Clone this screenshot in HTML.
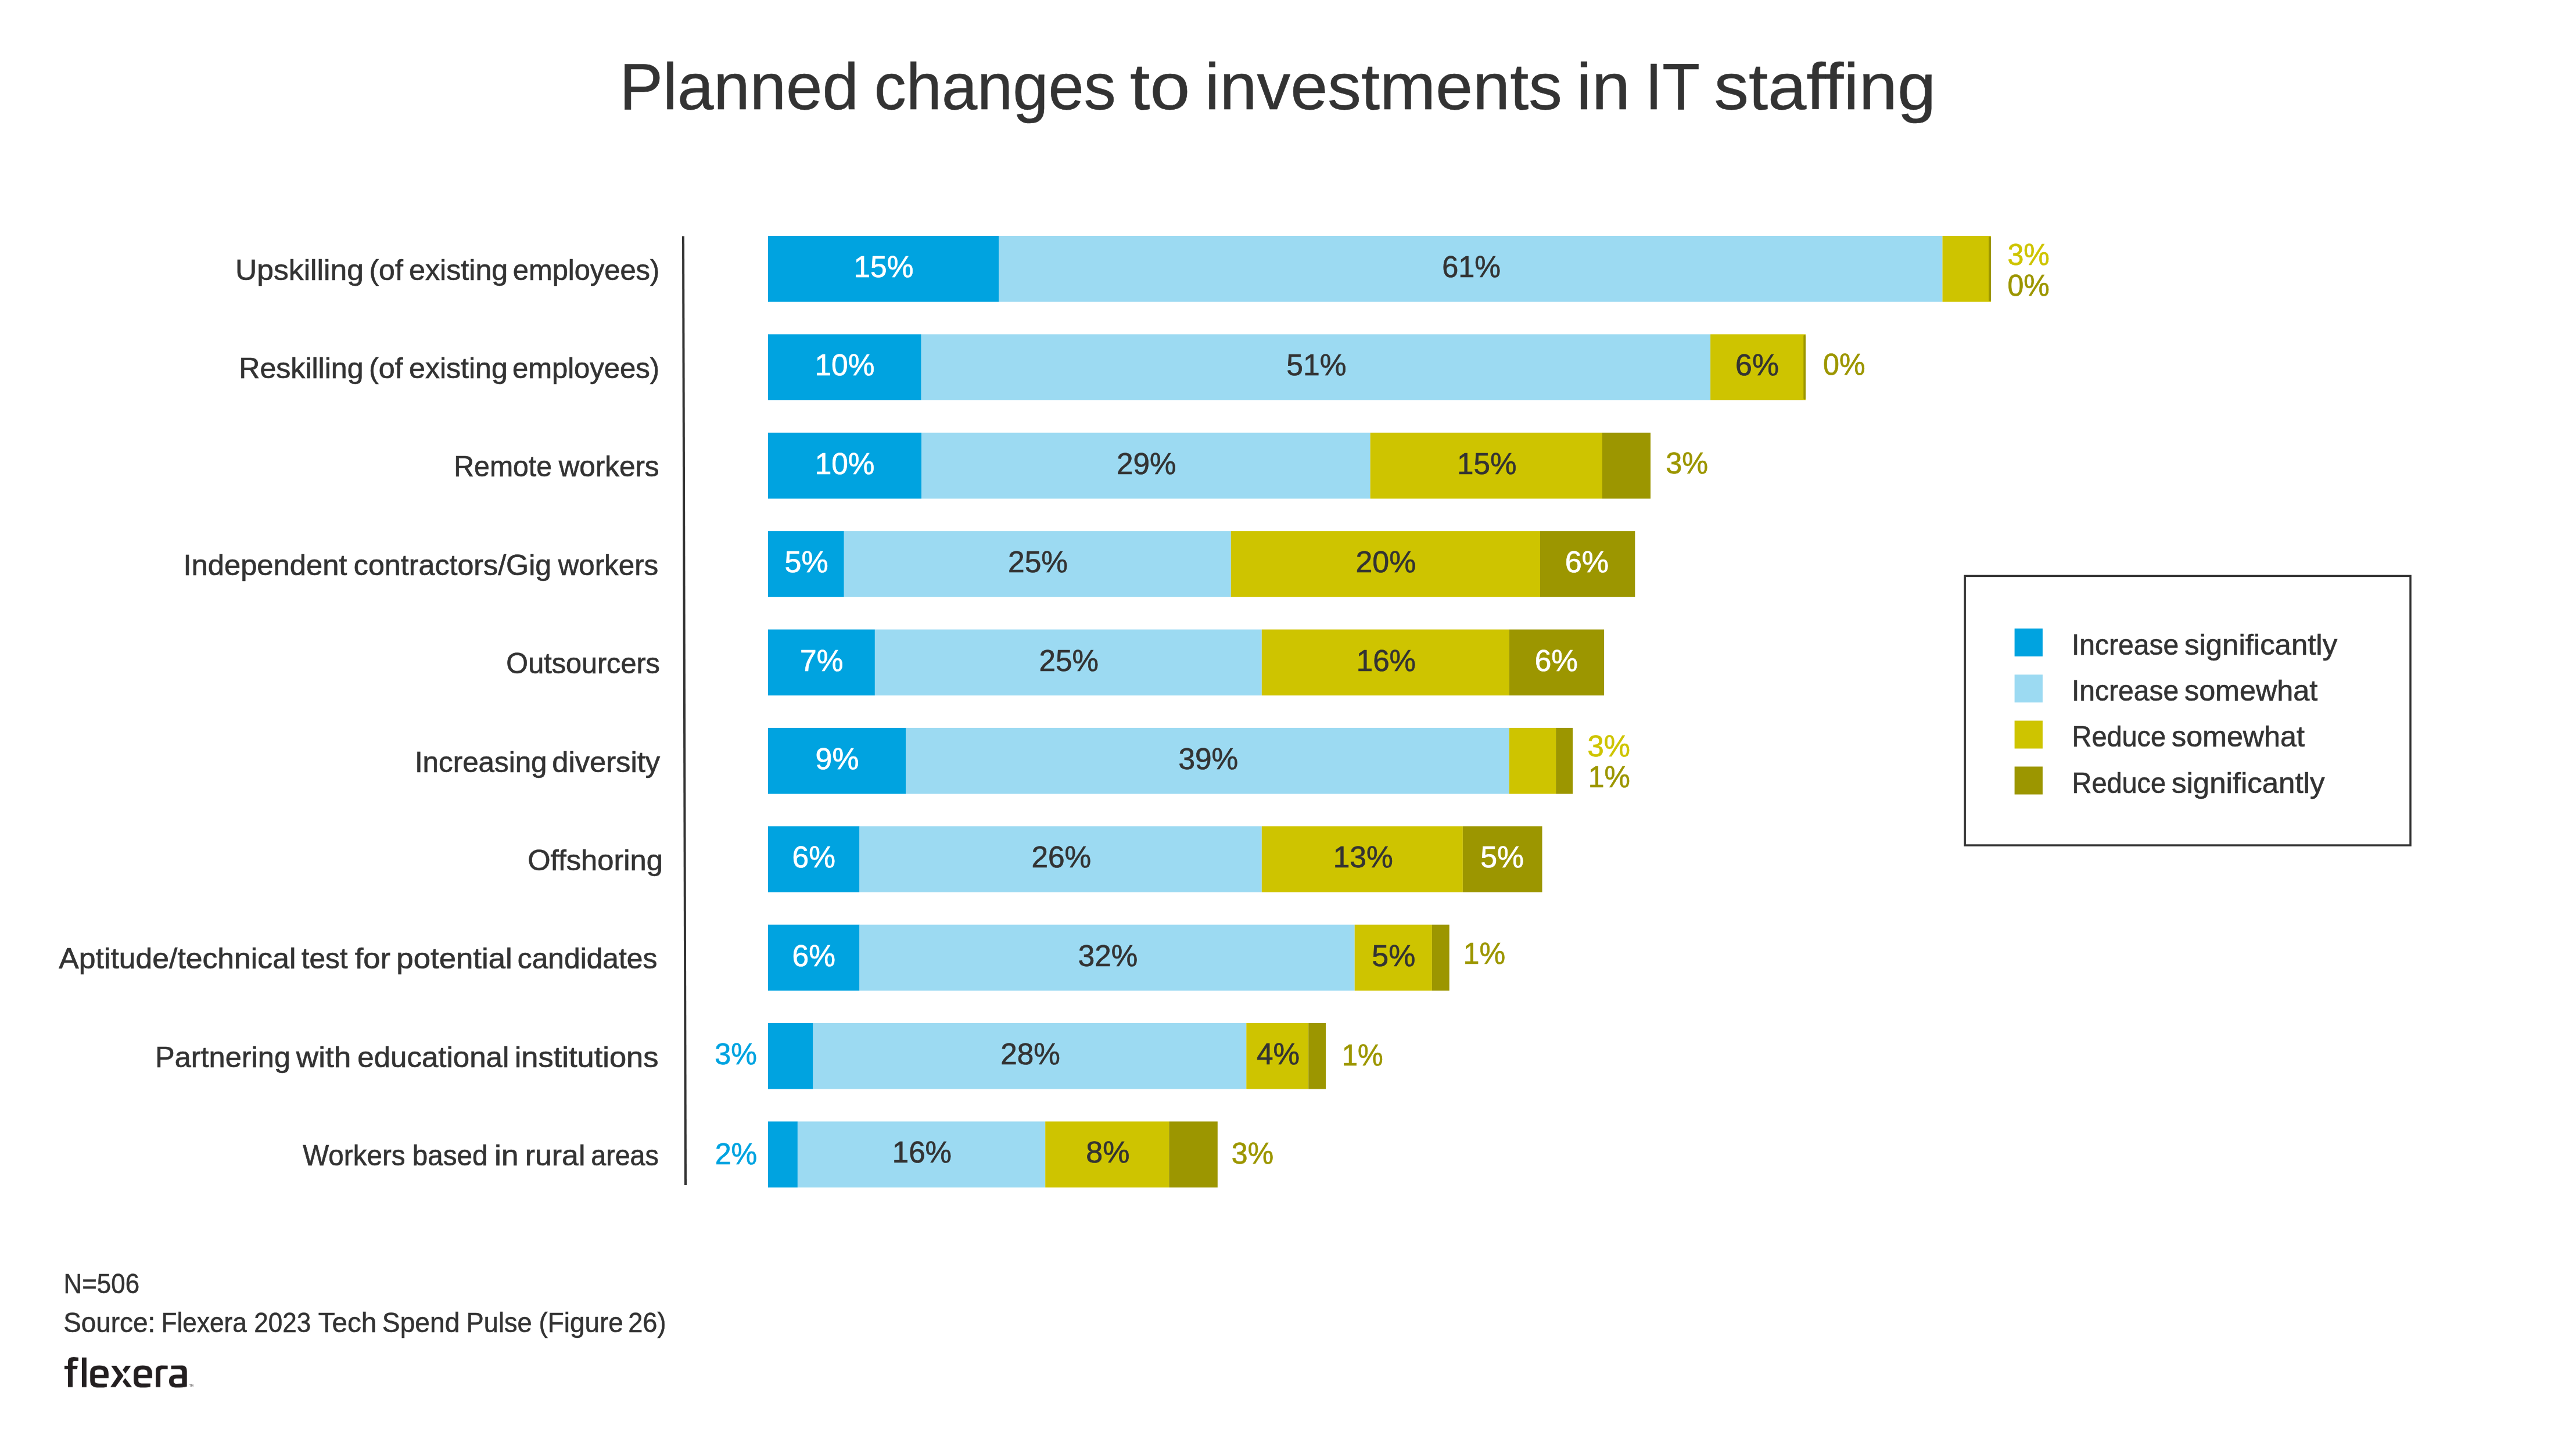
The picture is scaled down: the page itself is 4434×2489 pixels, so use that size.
<!DOCTYPE html><html><head><meta charset="utf-8"><title>Planned changes to investments in IT staffing</title><style>html,body{margin:0;padding:0;background:#fff;}svg{display:block;will-change:transform;}text{font-family:"Liberation Sans",sans-serif;}</style></head><body>
<svg width="4434" height="2489" viewBox="0 0 4434 2489">
<rect width="4434" height="2489" fill="#fff"/>
<text stroke="#333333" stroke-width="0.6" transform="translate(1066.23,187.90) scale(0.9839,1)" font-size="114.0" fill="#333333">Planned</text>
<text stroke="#333333" stroke-width="0.6" transform="translate(1504.70,187.90) scale(0.9653,1)" font-size="114.0" fill="#333333">changes</text>
<text stroke="#333333" stroke-width="0.6" transform="translate(1945.04,187.90) scale(1.0864,1)" font-size="114.0" fill="#333333">to</text>
<text stroke="#333333" stroke-width="0.6" transform="translate(2073.81,187.90) scale(1.0112,1)" font-size="114.0" fill="#333333">investments</text>
<text stroke="#333333" stroke-width="0.6" transform="translate(2713.34,187.90) scale(1.0472,1)" font-size="114.0" fill="#333333">in</text>
<text stroke="#333333" stroke-width="0.6" transform="translate(2831.77,187.90) scale(0.9289,1)" font-size="114.0" fill="#333333">IT</text>
<text stroke="#333333" stroke-width="0.6" transform="translate(2950.43,187.90) scale(1.0450,1)" font-size="114.0" fill="#333333">staffing</text>
<line x1="1176" y1="406.5" x2="1180" y2="2040" stroke="#333333" stroke-width="4"/>
<rect x="1322.00" y="406.00" width="397.00" height="113.60" fill="#00A3E0"/>
<rect x="1719.00" y="406.00" width="1624.50" height="113.60" fill="#9CDAF2"/>
<rect x="3343.50" y="406.00" width="83.50" height="113.60" fill="#CEC400"/>
<rect x="3423.00" y="407.20" width="4.00" height="111.20" rx="2" fill="#9C9600"/>
<text stroke="#333333" stroke-width="0.7" transform="translate(405.08,481.70) scale(1.0242,1)" font-size="50.4" fill="#333333">Upskilling</text>
<text stroke="#333333" stroke-width="0.7" transform="translate(635.45,481.70) scale(0.9921,1)" font-size="50.4" fill="#333333">(of</text>
<text stroke="#333333" stroke-width="0.7" transform="translate(704.04,481.70) scale(0.9966,1)" font-size="50.4" fill="#333333">existing</text>
<text stroke="#333333" stroke-width="0.7" transform="translate(882.80,481.70) scale(0.9695,1)" font-size="50.4" fill="#333333">employees)</text>
<rect x="1322.00" y="575.38" width="263.70" height="113.60" fill="#00A3E0"/>
<rect x="1585.70" y="575.38" width="1358.40" height="113.60" fill="#9CDAF2"/>
<rect x="2944.10" y="575.38" width="163.90" height="113.60" fill="#CEC400"/>
<rect x="3104.30" y="576.58" width="3.70" height="111.20" rx="2" fill="#9C9600"/>
<text stroke="#333333" stroke-width="0.7" transform="translate(411.35,651.08) scale(0.9933,1)" font-size="50.4" fill="#333333">Reskilling</text>
<text stroke="#333333" stroke-width="0.7" transform="translate(634.93,651.08) scale(0.9974,1)" font-size="50.4" fill="#333333">(of</text>
<text stroke="#333333" stroke-width="0.7" transform="translate(704.05,651.08) scale(0.9936,1)" font-size="50.4" fill="#333333">existing</text>
<text stroke="#333333" stroke-width="0.7" transform="translate(881.89,651.08) scale(0.9723,1)" font-size="50.4" fill="#333333">employees)</text>
<rect x="1322.00" y="744.76" width="264.00" height="113.60" fill="#00A3E0"/>
<rect x="1586.00" y="744.76" width="772.60" height="113.60" fill="#9CDAF2"/>
<rect x="2358.60" y="744.76" width="399.40" height="113.60" fill="#CEC400"/>
<rect x="2758.00" y="744.76" width="83.00" height="113.60" fill="#9C9600"/>
<text stroke="#333333" stroke-width="0.7" transform="translate(781.29,820.46) scale(0.9565,1)" font-size="50.4" fill="#333333">Remote</text>
<text stroke="#333333" stroke-width="0.7" transform="translate(961.65,820.46) scale(0.9803,1)" font-size="50.4" fill="#333333">workers</text>
<rect x="1322.00" y="914.14" width="130.80" height="113.60" fill="#00A3E0"/>
<rect x="1452.80" y="914.14" width="666.00" height="113.60" fill="#9CDAF2"/>
<rect x="2118.80" y="914.14" width="532.20" height="113.60" fill="#CEC400"/>
<rect x="2651.00" y="914.14" width="163.30" height="113.60" fill="#9C9600"/>
<text stroke="#333333" stroke-width="0.7" transform="translate(315.49,989.84) scale(1.0060,1)" font-size="50.4" fill="#333333">Independent</text>
<text stroke="#333333" stroke-width="0.7" transform="translate(608.84,989.84) scale(0.9964,1)" font-size="50.4" fill="#333333">contractors/Gig</text>
<text stroke="#333333" stroke-width="0.7" transform="translate(960.75,989.84) scale(0.9775,1)" font-size="50.4" fill="#333333">workers</text>
<rect x="1322.00" y="1083.52" width="183.90" height="113.60" fill="#00A3E0"/>
<rect x="1505.90" y="1083.52" width="665.90" height="113.60" fill="#9CDAF2"/>
<rect x="2171.80" y="1083.52" width="426.00" height="113.60" fill="#CEC400"/>
<rect x="2597.80" y="1083.52" width="163.30" height="113.60" fill="#9C9600"/>
<text stroke="#333333" stroke-width="0.7" transform="translate(871.36,1159.22) scale(0.9638,1)" font-size="50.4" fill="#333333">Outsourcers</text>
<rect x="1322.00" y="1252.90" width="237.30" height="113.60" fill="#00A3E0"/>
<rect x="1559.30" y="1252.90" width="1038.50" height="113.60" fill="#9CDAF2"/>
<rect x="2597.80" y="1252.90" width="80.30" height="113.60" fill="#CEC400"/>
<rect x="2678.10" y="1252.90" width="29.00" height="113.60" fill="#9C9600"/>
<text stroke="#333333" stroke-width="0.7" transform="translate(713.91,1328.60) scale(0.9792,1)" font-size="50.4" fill="#333333">Increasing</text>
<text stroke="#333333" stroke-width="0.7" transform="translate(950.22,1328.60) scale(1.0063,1)" font-size="50.4" fill="#333333">diversity</text>
<rect x="1322.00" y="1422.28" width="157.50" height="113.60" fill="#00A3E0"/>
<rect x="1479.50" y="1422.28" width="692.30" height="113.60" fill="#9CDAF2"/>
<rect x="2171.80" y="1422.28" width="346.10" height="113.60" fill="#CEC400"/>
<rect x="2517.90" y="1422.28" width="136.60" height="113.60" fill="#9C9600"/>
<text stroke="#333333" stroke-width="0.7" transform="translate(908.17,1497.98) scale(1.0051,1)" font-size="50.4" fill="#333333">Offshoring</text>
<rect x="1322.00" y="1591.66" width="157.50" height="113.60" fill="#00A3E0"/>
<rect x="1479.50" y="1591.66" width="852.20" height="113.60" fill="#9CDAF2"/>
<rect x="2331.70" y="1591.66" width="133.20" height="113.60" fill="#CEC400"/>
<rect x="2464.90" y="1591.66" width="29.80" height="113.60" fill="#9C9600"/>
<text stroke="#333333" stroke-width="0.7" transform="translate(101.35,1667.36) scale(1.0259,1)" font-size="50.4" fill="#333333">Aptitude/technical</text>
<text stroke="#333333" stroke-width="0.7" transform="translate(518.81,1667.36) scale(0.9821,1)" font-size="50.4" fill="#333333">test</text>
<text stroke="#333333" stroke-width="0.7" transform="translate(610.66,1667.36) scale(1.0436,1)" font-size="50.4" fill="#333333">for</text>
<text stroke="#333333" stroke-width="0.7" transform="translate(682.32,1667.36) scale(1.0464,1)" font-size="50.4" fill="#333333">potential</text>
<text stroke="#333333" stroke-width="0.7" transform="translate(890.86,1667.36) scale(0.9866,1)" font-size="50.4" fill="#333333">candidates</text>
<rect x="1322.00" y="1761.04" width="77.50" height="113.60" fill="#00A3E0"/>
<rect x="1399.50" y="1761.04" width="745.80" height="113.60" fill="#9CDAF2"/>
<rect x="2145.30" y="1761.04" width="106.90" height="113.60" fill="#CEC400"/>
<rect x="2252.20" y="1761.04" width="29.80" height="113.60" fill="#9C9600"/>
<text stroke="#333333" stroke-width="0.7" transform="translate(267.01,1836.74) scale(1.0023,1)" font-size="50.4" fill="#333333">Partnering</text>
<text stroke="#333333" stroke-width="0.7" transform="translate(509.75,1836.74) scale(1.0547,1)" font-size="50.4" fill="#333333">with</text>
<text stroke="#333333" stroke-width="0.7" transform="translate(615.31,1836.74) scale(1.0123,1)" font-size="50.4" fill="#333333">educational</text>
<text stroke="#333333" stroke-width="0.7" transform="translate(885.64,1836.74) scale(1.0412,1)" font-size="50.4" fill="#333333">institutions</text>
<rect x="1322.00" y="1930.42" width="50.90" height="113.60" fill="#00A3E0"/>
<rect x="1372.90" y="1930.42" width="426.30" height="113.60" fill="#9CDAF2"/>
<rect x="1799.20" y="1930.42" width="213.00" height="113.60" fill="#CEC400"/>
<rect x="2012.20" y="1930.42" width="83.60" height="113.60" fill="#9C9600"/>
<text stroke="#333333" stroke-width="0.7" transform="translate(521.31,2006.12) scale(0.9442,1)" font-size="50.4" fill="#333333">Workers</text>
<text stroke="#333333" stroke-width="0.7" transform="translate(709.76,2006.12) scale(0.9443,1)" font-size="50.4" fill="#333333">based</text>
<text stroke="#333333" stroke-width="0.7" transform="translate(850.96,2006.12) scale(1.0644,1)" font-size="50.4" fill="#333333">in</text>
<text stroke="#333333" stroke-width="0.7" transform="translate(903.78,2006.12) scale(1.0281,1)" font-size="50.4" fill="#333333">rural</text>
<text stroke="#333333" stroke-width="0.7" transform="translate(1017.29,2006.12) scale(0.9237,1)" font-size="50.4" fill="#333333">areas</text>
<text stroke="#FFFFFF" stroke-width="0.7" transform="translate(1469.49,477.00) scale(0.9843,1)" font-size="52.3" fill="#FFFFFF">15%</text>
<text stroke="#333333" stroke-width="0.7" transform="translate(2482.13,477.00) scale(0.9635,1)" font-size="52.3" fill="#333333">61%</text>
<text stroke="#CEC400" stroke-width="0.7" transform="translate(3455.44,456.30) scale(0.9588,1)" font-size="52.3" fill="#CEC400">3%</text>
<text stroke="#9C9600" stroke-width="0.7" transform="translate(3455.44,508.60) scale(0.9588,1)" font-size="52.3" fill="#9C9600">0%</text>
<text stroke="#FFFFFF" stroke-width="0.7" transform="translate(1402.49,646.38) scale(0.9843,1)" font-size="52.3" fill="#FFFFFF">10%</text>
<text stroke="#333333" stroke-width="0.7" transform="translate(2214.29,646.38) scale(0.9863,1)" font-size="52.3" fill="#333333">51%</text>
<text stroke="#333333" stroke-width="0.7" transform="translate(2987.06,646.38) scale(0.9912,1)" font-size="52.3" fill="#333333">6%</text>
<text stroke="#9C9600" stroke-width="0.7" transform="translate(3138.04,644.50) scale(0.9602,1)" font-size="52.3" fill="#9C9600">0%</text>
<text stroke="#FFFFFF" stroke-width="0.7" transform="translate(1402.70,815.76) scale(0.9823,1)" font-size="52.3" fill="#FFFFFF">10%</text>
<text stroke="#333333" stroke-width="0.7" transform="translate(1921.99,815.76) scale(0.9795,1)" font-size="52.3" fill="#333333">29%</text>
<text stroke="#333333" stroke-width="0.7" transform="translate(2508.11,815.76) scale(0.9783,1)" font-size="52.3" fill="#333333">15%</text>
<text stroke="#9C9600" stroke-width="0.7" transform="translate(2867.33,815.20) scale(0.9644,1)" font-size="52.3" fill="#9C9600">3%</text>
<text stroke="#FFFFFF" stroke-width="0.7" transform="translate(1350.47,985.14) scale(0.9951,1)" font-size="52.3" fill="#FFFFFF">5%</text>
<text stroke="#333333" stroke-width="0.7" transform="translate(1735.08,985.14) scale(0.9845,1)" font-size="52.3" fill="#333333">25%</text>
<text stroke="#333333" stroke-width="0.7" transform="translate(2333.45,985.14) scale(0.9925,1)" font-size="52.3" fill="#333333">20%</text>
<text stroke="#FFFFFF" stroke-width="0.7" transform="translate(2693.84,985.14) scale(0.9982,1)" font-size="52.3" fill="#FFFFFF">6%</text>
<text stroke="#FFFFFF" stroke-width="0.7" transform="translate(1376.97,1154.52) scale(0.9855,1)" font-size="52.3" fill="#FFFFFF">7%</text>
<text stroke="#333333" stroke-width="0.7" transform="translate(1788.49,1154.52) scale(0.9785,1)" font-size="52.3" fill="#333333">25%</text>
<text stroke="#333333" stroke-width="0.7" transform="translate(2334.71,1154.52) scale(0.9783,1)" font-size="52.3" fill="#333333">16%</text>
<text stroke="#FFFFFF" stroke-width="0.7" transform="translate(2641.78,1154.52) scale(0.9827,1)" font-size="52.3" fill="#FFFFFF">6%</text>
<text stroke="#FFFFFF" stroke-width="0.7" transform="translate(1403.62,1323.90) scale(0.9903,1)" font-size="52.3" fill="#FFFFFF">9%</text>
<text stroke="#333333" stroke-width="0.7" transform="translate(2028.39,1323.90) scale(0.9833,1)" font-size="52.3" fill="#333333">39%</text>
<text stroke="#CEC400" stroke-width="0.7" transform="translate(2732.42,1301.70) scale(0.9714,1)" font-size="52.3" fill="#CEC400">3%</text>
<text stroke="#9C9600" stroke-width="0.7" transform="translate(2733.71,1354.70) scale(0.9539,1)" font-size="52.3" fill="#9C9600">1%</text>
<text stroke="#FFFFFF" stroke-width="0.7" transform="translate(1363.57,1493.28) scale(0.9855,1)" font-size="52.3" fill="#FFFFFF">6%</text>
<text stroke="#333333" stroke-width="0.7" transform="translate(1775.38,1493.28) scale(0.9825,1)" font-size="52.3" fill="#333333">26%</text>
<text stroke="#333333" stroke-width="0.7" transform="translate(2294.68,1493.28) scale(0.9854,1)" font-size="52.3" fill="#333333">13%</text>
<text stroke="#FFFFFF" stroke-width="0.7" transform="translate(2548.28,1493.28) scale(0.9909,1)" font-size="52.3" fill="#FFFFFF">5%</text>
<text stroke="#FFFFFF" stroke-width="0.7" transform="translate(1363.57,1662.66) scale(0.9855,1)" font-size="52.3" fill="#FFFFFF">6%</text>
<text stroke="#333333" stroke-width="0.7" transform="translate(1855.80,1662.66) scale(0.9794,1)" font-size="52.3" fill="#333333">32%</text>
<text stroke="#333333" stroke-width="0.7" transform="translate(2361.37,1662.66) scale(0.9923,1)" font-size="52.3" fill="#333333">5%</text>
<text stroke="#9C9600" stroke-width="0.7" transform="translate(2518.58,1658.90) scale(0.9610,1)" font-size="52.3" fill="#9C9600">1%</text>
<text stroke="#00A3E0" stroke-width="0.7" transform="translate(1230.34,1832.20) scale(0.9616,1)" font-size="52.3" fill="#00A3E0">3%</text>
<text stroke="#333333" stroke-width="0.7" transform="translate(1722.18,1832.04) scale(0.9815,1)" font-size="52.3" fill="#333333">28%</text>
<text stroke="#333333" stroke-width="0.7" transform="translate(2163.02,1832.04) scale(0.9808,1)" font-size="52.3" fill="#333333">4%</text>
<text stroke="#9C9600" stroke-width="0.7" transform="translate(2309.76,1833.70) scale(0.9396,1)" font-size="52.3" fill="#9C9600">1%</text>
<text stroke="#00A3E0" stroke-width="0.7" transform="translate(1230.64,2003.90) scale(0.9616,1)" font-size="52.3" fill="#00A3E0">2%</text>
<text stroke="#333333" stroke-width="0.7" transform="translate(1535.71,2001.42) scale(0.9783,1)" font-size="52.3" fill="#333333">16%</text>
<text stroke="#333333" stroke-width="0.7" transform="translate(1869.31,2001.42) scale(0.9945,1)" font-size="52.3" fill="#333333">8%</text>
<text stroke="#9C9600" stroke-width="0.7" transform="translate(2119.85,2002.50) scale(0.9560,1)" font-size="52.3" fill="#9C9600">3%</text>
<rect x="3382.15" y="991.4" width="766.85" height="463.65" fill="none" stroke="#333333" stroke-width="3.5"/>
<rect x="3467.6" y="1081.8" width="48.3" height="48" fill="#00A3E0"/>
<text stroke="#333333" stroke-width="0.7" transform="translate(3566.03,1127.00) scale(0.9529,1)" font-size="50.4" fill="#333333">Increase</text>
<text stroke="#333333" stroke-width="0.7" transform="translate(3760.02,1127.00) scale(1.0102,1)" font-size="50.4" fill="#333333">significantly</text>
<rect x="3467.6" y="1161.2" width="48.3" height="48" fill="#9CDAF2"/>
<text stroke="#333333" stroke-width="0.7" transform="translate(3566.03,1205.80) scale(0.9529,1)" font-size="50.4" fill="#333333">Increase</text>
<text stroke="#333333" stroke-width="0.7" transform="translate(3760.04,1205.80) scale(0.9973,1)" font-size="50.4" fill="#333333">somewhat</text>
<rect x="3467.6" y="1240.5" width="48.3" height="48" fill="#CEC400"/>
<text stroke="#333333" stroke-width="0.7" transform="translate(3566.60,1285.00) scale(0.9293,1)" font-size="50.4" fill="#333333">Reduce</text>
<text stroke="#333333" stroke-width="0.7" transform="translate(3738.04,1285.00) scale(0.9965,1)" font-size="50.4" fill="#333333">somewhat</text>
<rect x="3467.6" y="1319.5" width="48.3" height="48" fill="#9C9600"/>
<text stroke="#333333" stroke-width="0.7" transform="translate(3566.60,1364.60) scale(0.9293,1)" font-size="50.4" fill="#333333">Reduce</text>
<text stroke="#333333" stroke-width="0.7" transform="translate(3738.02,1364.60) scale(1.0114,1)" font-size="50.4" fill="#333333">significantly</text>
<text stroke="#333333" stroke-width="0.6" transform="translate(109.59,2226.00) scale(0.9061,1)" font-size="48.4" fill="#333333">N=506</text>
<text stroke="#333333" stroke-width="0.6" transform="translate(109.13,2293.00) scale(0.9488,1)" font-size="48.4" fill="#333333">Source:</text>
<text stroke="#333333" stroke-width="0.6" transform="translate(277.46,2293.00) scale(0.9140,1)" font-size="48.4" fill="#333333">Flexera</text>
<text stroke="#333333" stroke-width="0.6" transform="translate(437.30,2293.00) scale(0.9106,1)" font-size="48.4" fill="#333333">2023</text>
<text stroke="#333333" stroke-width="0.6" transform="translate(547.65,2293.00) scale(0.9846,1)" font-size="48.4" fill="#333333">Tech</text>
<text stroke="#333333" stroke-width="0.6" transform="translate(657.82,2293.00) scale(0.9550,1)" font-size="48.4" fill="#333333">Spend</text>
<text stroke="#333333" stroke-width="0.6" transform="translate(802.58,2293.00) scale(0.9352,1)" font-size="48.4" fill="#333333">Pulse</text>
<text stroke="#333333" stroke-width="0.6" transform="translate(927.45,2293.00) scale(0.9487,1)" font-size="48.4" fill="#333333">(Figure</text>
<text stroke="#333333" stroke-width="0.6" transform="translate(1081.24,2293.00) scale(0.9336,1)" font-size="48.4" fill="#333333">26)</text>
<svg x="100" y="2320" width="240" height="80" viewBox="0 0 2576 859" preserveAspectRatio="none">
<g fill="#231F20" fill-rule="evenodd">
<path d="M183,727 L183,260 C183,200 215,170 290,170 L375,178 L375,245 L300,245 C278,245 268,258 268,290 L268,727 Z"/>
<path d="M118,332 L362,332 L352,395 L118,395 Z"/>
<path d="M440,178 L524,178 L524,727 L440,727 Z"/>
<path d="M932,560 L932,480 C932,360 870,325 760,325 C640,325 593,370 593,470 L593,600 C593,700 640,735 760,735 C820,735 870,730 900,722 L900,660 L760,660 C700,660 678,640 678,600 L678,560 Z M678,500 L845,500 L845,460 C845,415 820,400 760,400 C700,400 678,415 678,460 Z"/>
<path d="M980,330 L1075,330 L1210,515 L1060,725 L965,725 L1105,520 Z"/>
<path d="M1250,330 L1345,330 L1245,475 L1192,410 Z"/>
<path d="M1240,560 L1365,725 L1270,725 L1192,625 Z"/>
<path transform="translate(805,0)" d="M932,560 L932,480 C932,360 870,325 760,325 C640,325 593,370 593,470 L593,600 C593,700 640,735 760,735 C820,735 870,730 900,722 L900,660 L760,660 C700,660 678,640 678,600 L678,560 Z M678,500 L845,500 L845,460 C845,415 820,400 760,400 C700,400 678,415 678,460 Z"/>
<path d="M1805,727 L1805,420 C1805,350 1850,325 1930,325 L2025,330 L2025,395 L1930,395 C1900,395 1890,410 1890,430 L1890,727 Z"/>
<path d="M2088,330 L2290,325 C2360,325 2380,370 2380,440 L2380,715 C2330,730 2260,735 2200,735 C2100,735 2050,700 2050,615 C2050,530 2100,495 2200,495 L2290,495 L2290,450 C2290,410 2270,395 2230,395 L2088,395 Z M2290,565 L2200,565 C2155,565 2135,580 2135,615 C2135,650 2155,665 2200,665 L2290,660 Z"/>
<text x="2425" y="715" font-size="52" font-family="Liberation Sans, sans-serif">TM</text>
</g>
</svg>

</svg></body></html>
